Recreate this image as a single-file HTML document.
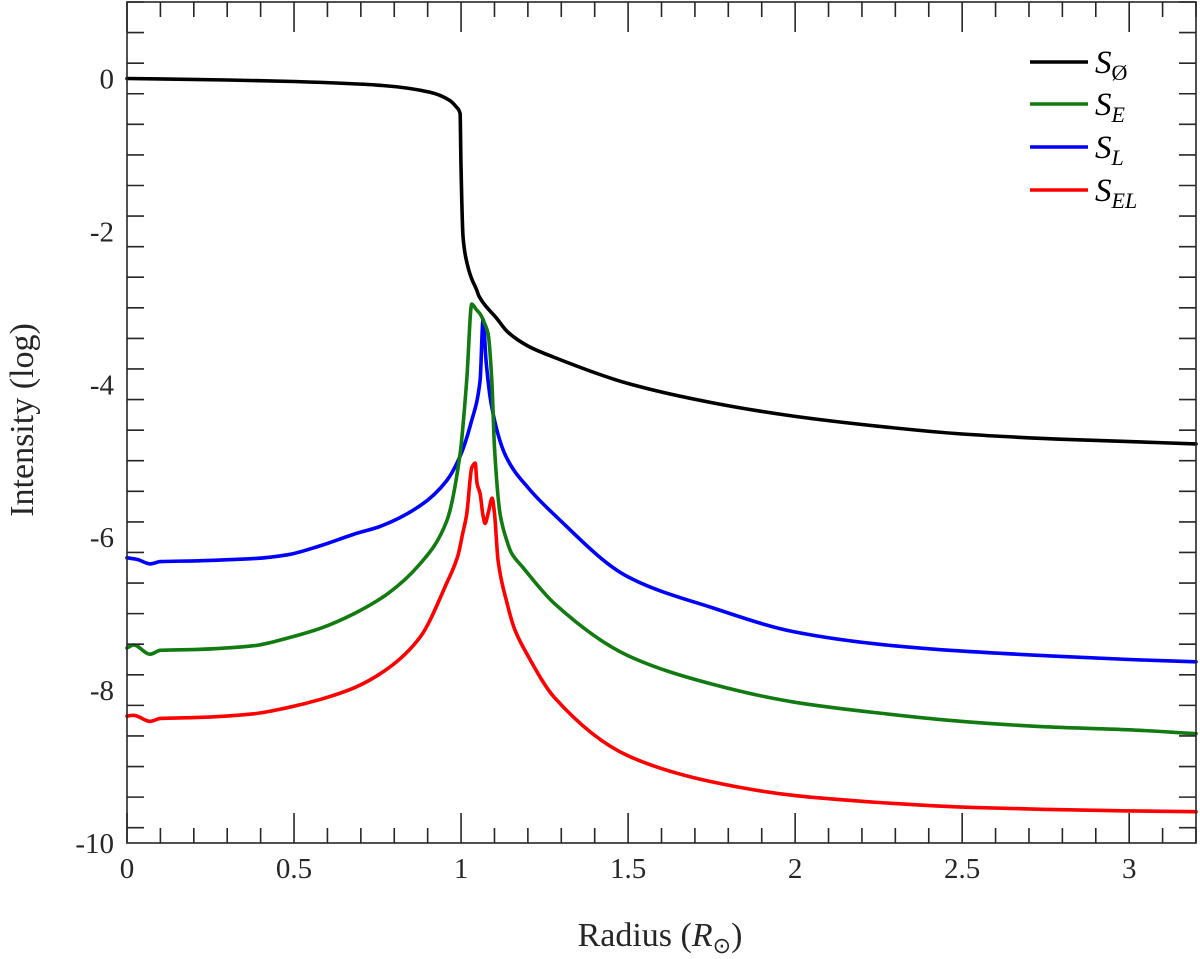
<!DOCTYPE html>
<html><head><meta charset="utf-8"><style>
html,body{margin:0;padding:0;background:#fff;}
svg{display:block;font-family:"Liberation Serif",serif;}
</style></head><body>
<svg id="chart" width="1200" height="959" viewBox="0 0 1200 959" xmlns="http://www.w3.org/2000/svg"></svg>
<script>
const xTicks=[0,0.5,1,1.5,2,2.5,3];
const xTickLabels=["0","0.5","1","1.5","2","2.5","3"];
const yTicks=[0,-2,-4,-6,-8,-10];
const yTickLabels=["0","-2","-4","-6","-8","-10"];
const blackX=[0,0.3,0.5,0.757,0.907,0.967,0.985,0.997,1.0,1.006,1.018,1.03,1.047,1.054,1.107,1.138,1.2,1.28,1.5,1.75,2.0,2.25,2.5,2.75,3.0,3.2];
const blackY=[0,-0.02,-0.04,-0.09,-0.18,-0.29,-0.37,-0.46,-1.2,-2.08,-2.42,-2.6,-2.77,-2.85,-3.14,-3.31,-3.5,-3.65,-3.99,-4.24,-4.42,-4.55,-4.65,-4.71,-4.75,-4.78];
const blueX=[0,0.03,0.069,0.1,0.2,0.38,0.48,0.58,0.68,0.757,0.877,0.957,1.0,1.03,1.057,1.066,1.075,1.09,1.134,1.2,1.28,1.5,1.75,2.0,2.25,2.5,2.75,3.0,3.2];
const blueY=[-6.27,-6.29,-6.35,-6.32,-6.31,-6.28,-6.23,-6.11,-5.96,-5.86,-5.59,-5.26,-4.91,-4.5,-3.95,-3.15,-3.7,-4.25,-4.94,-5.35,-5.71,-6.52,-6.92,-7.24,-7.4,-7.49,-7.55,-7.6,-7.63];
const greenX=[0,0.02,0.069,0.1,0.2,0.38,0.48,0.58,0.68,0.78,0.877,0.957,0.997,1.017,1.032,1.045,1.057,1.07,1.081,1.092,1.10,1.117,1.138,1.15,1.186,1.28,1.5,1.75,2.0,2.25,2.5,2.75,3.0,3.2];
const greenY=[-7.45,-7.41,-7.53,-7.48,-7.47,-7.42,-7.32,-7.19,-7.0,-6.74,-6.35,-5.79,-4.91,-3.95,-2.95,-3.02,-3.08,-3.2,-3.34,-3.95,-4.83,-5.7,-6.06,-6.2,-6.4,-6.87,-7.55,-7.92,-8.16,-8.3,-8.41,-8.48,-8.52,-8.57];
const redX=[0,0.02,0.069,0.1,0.2,0.38,0.48,0.58,0.68,0.78,0.877,0.957,0.99,1.005,1.017,1.032,1.042,1.048,1.057,1.065,1.072,1.081,1.093,1.10,1.111,1.138,1.16,1.2,1.28,1.5,1.75,2.0,2.25,2.5,2.75,3.0,3.2];
const redY=[-8.34,-8.33,-8.41,-8.37,-8.36,-8.31,-8.23,-8.12,-7.97,-7.72,-7.31,-6.6,-6.25,-5.95,-5.7,-5.09,-5.03,-5.3,-5.43,-5.7,-5.82,-5.69,-5.49,-5.69,-6.31,-6.87,-7.2,-7.55,-8.1,-8.86,-9.2,-9.38,-9.47,-9.53,-9.56,-9.58,-9.59];

const L=127,R=1196,T=2,B=843,XMIN=0,XMAX=3.2,YMIN=-10,YMAX=1;
const X=v=>L+(v-XMIN)/(XMAX-XMIN)*(R-L);
const Y=v=>B-(v-YMIN)/(YMAX-YMIN)*(B-T);
const NS="http://www.w3.org/2000/svg";
const svg=document.getElementById('chart');
function mk(tag,attrs,parent){const e=document.createElementNS(NS,tag);for(const k in attrs)e.setAttribute(k,attrs[k]);(parent||svg).appendChild(e);return e;}

// monotone cubic path (rendering only)
function monoPath(px,py){
  const n=px.length;const dx=[],m=[],t=new Array(n);
  for(let i=0;i<n-1;i++){dx[i]=px[i+1]-px[i];m[i]=(py[i+1]-py[i])/(dx[i]||1e-6);}
  t[0]=m[0];t[n-1]=m[n-2];
  for(let i=1;i<n-1;i++){ if(m[i-1]*m[i]<=0)t[i]=0; else {const w1=2*dx[i]+dx[i-1],w2=dx[i]+2*dx[i-1];t[i]=(w1+w2)/(w1/m[i-1]+w2/m[i]);}}
  let d='M'+px[0].toFixed(1)+','+py[0].toFixed(1);
  for(let i=0;i<n-1;i++){const h=dx[i]/3;
    d+=' C'+(px[i]+h).toFixed(1)+','+(py[i]+t[i]*h).toFixed(1)+' '+(px[i+1]-h).toFixed(1)+','+(py[i+1]-t[i+1]*h).toFixed(1)+' '+px[i+1].toFixed(1)+','+py[i+1].toFixed(1);}
  return d;
}

const series=[[blackX,blackY,'#000000','series-s-empty'],[blueX,blueY,'#0000ff','series-s-l'],[greenX,greenY,'#117a11','series-s-e'],[redX,redY,'#ff0000','series-s-el']];
series.forEach(s=>{
  const d=monoPath(s[0].map(X),s[1].map(Y));
  const p=mk('path',{d:d,fill:'none',stroke:s[2],'stroke-width':3.6,'stroke-linejoin':'round','stroke-linecap':'round'});
  
  
});

const box=mk('rect',{x:L,y:T,width:R-L,height:B-T,fill:'none',stroke:'#262626','stroke-width':1.6});



const tg=mk('g',{stroke:'#262626','stroke-width':1.6});


for(let i=0;i<=32;i++){const v=i*0.1;const len=(i%5===0)?30:15;const x=X(v);
  mk('line',{x1:x,y1:B,x2:x,y2:B-len},tg);mk('line',{x1:x,y1:T,x2:x,y2:T+len},tg);}
for(let i=0;i<=27;i++){const v=1-i*0.4;if(v<YMIN-1e-6)break;const y=Y(v);const major=Math.abs(v-Math.round(v))<1e-6&&Math.round(v)%2===0;const len=major?33:17;
  mk('line',{x1:L,y1:y,x2:L+len,y2:y},tg);mk('line',{x1:R,y1:y,x2:R-len,y2:y},tg);}

xTicks.forEach((v,i)=>{const t=mk('text',{x:X(v),y:878,'font-size':29,'text-anchor':'middle',fill:'#262626'});t.textContent=xTickLabels[i];
  
  });
yTicks.forEach((v,i)=>{const t=mk('text',{x:114,y:Y(v)+10,'font-size':29,'text-anchor':'end',fill:'#262626'});t.textContent=yTickLabels[i];
  
  });
</script>
<svg style="position:absolute;left:0;top:0" width="1200" height="959">
<text x="660" y="946" font-size="34" text-anchor="middle" fill="#262626" font-family="Liberation Serif,serif">Radius (<tspan font-style="italic">R</tspan><tspan font-size="22" dy="7">⊙</tspan><tspan dy="-7">)</tspan></text>
<text transform="translate(33,420) rotate(-90)" font-size="34" text-anchor="middle" fill="#262626" font-family="Liberation Serif,serif">Intensity (log)</text>
<g font-family="Liberation Serif,serif" font-style="italic" fill="#000">
<line x1="1030" y1="62" x2="1088" y2="62" stroke="#000" stroke-width="3.4"/>
<text x="1095" y="73" font-size="33">S<tspan font-size="22" dy="7" font-style="normal">Ø</tspan></text>
<line x1="1030" y1="104" x2="1088" y2="104" stroke="#117a11" stroke-width="3.4"/>
<text x="1095" y="115" font-size="33">S<tspan font-size="22" dy="7">E</tspan></text>
<line x1="1030" y1="147" x2="1088" y2="147" stroke="#0000ff" stroke-width="3.4"/>
<text x="1095" y="158" font-size="33">S<tspan font-size="22" dy="7">L</tspan></text>
<line x1="1030" y1="190" x2="1088" y2="190" stroke="#ff0000" stroke-width="3.4"/>
<text x="1095" y="201" font-size="33">S<tspan font-size="22" dy="7">EL</tspan></text>
</g>
</svg>
</body></html>
